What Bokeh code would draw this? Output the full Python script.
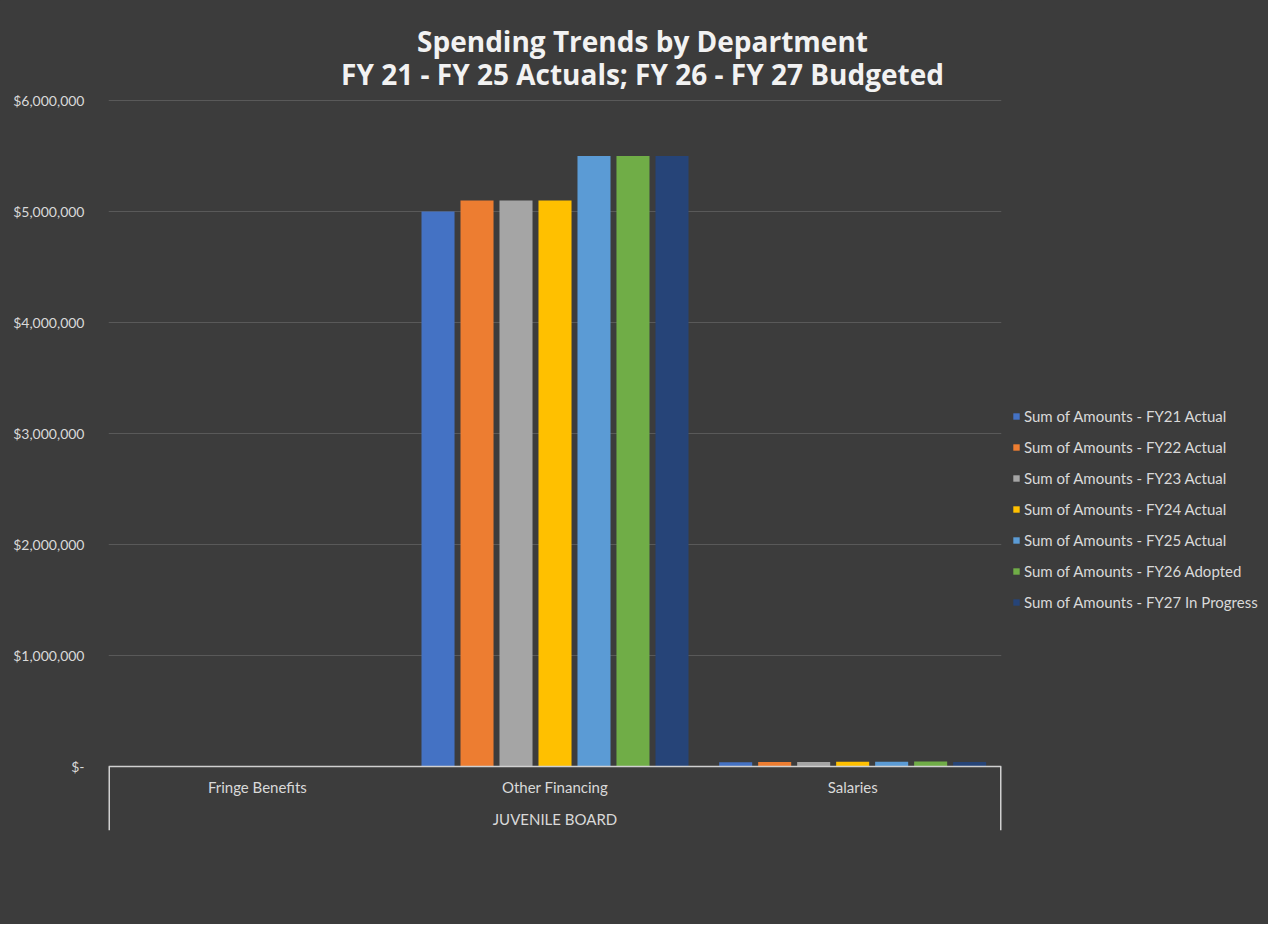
from bokeh.plotting import figure
from bokeh.models import (ColumnDataSource, FactorRange, Range1d, Legend, LegendItem,
                          FixedTicker, Label, InlineStyleSheet)
from bokeh.transform import dodge
from bokeh.embed import file_html
from bokeh.resources import INLINE

# ---- data ----
group = "JUVENILE BOARD"
categories = ["Fringe Benefits", "Other Financing", "Salaries"]
series = ["Sum of Amounts - FY21 Actual", "Sum of Amounts - FY22 Actual",
          "Sum of Amounts - FY23 Actual", "Sum of Amounts - FY24 Actual",
          "Sum of Amounts - FY25 Actual", "Sum of Amounts - FY26 Adopted",
          "Sum of Amounts - FY27 In Progress"]
fy21 = [1500, 5000000, 38000]
fy22 = [1800, 5100000, 40000]
fy23 = [2000, 5100000, 40000]
fy24 = [3000, 5100000, 42000]
fy25 = [2200, 5500000, 42000]
fy26 = [2400, 5500000, 44000]
fy27 = [2400, 5500000, 40000]
y_ticks = [0, 1000000, 2000000, 3000000, 4000000, 5000000, 6000000]
y_tick_labels = ["$-", "$1,000,000", "$2,000,000", "$3,000,000", "$4,000,000",
                 "$5,000,000", "$6,000,000"]
title_1 = "Spending Trends by Department"
title_2 = "FY 21 - FY 25 Actuals; FY 26 - FY 27 Budgeted"
colors = ["#4472C4", "#ED7D31", "#A5A5A5", "#FFC000", "#5B9BD5", "#70AD47", "#264478"]

factors = [(group, c) for c in categories]
data = dict(x=factors, fy21=fy21, fy22=fy22, fy23=fy23, fy24=fy24,
            fy25=fy25, fy26=fy26, fy27=fy27)
src = ColumnDataSource(data)
keys = ["fy21", "fy22", "fy23", "fy24", "fy25", "fy26", "fy27"]

BG = "#3c3c3c"
TXT = "#d9d9d9"
FONT = "Lato"

# geometry (pixels)
W, H = 1266, 924
LEFT, PLOT_W = 108, 893
TOP_PAD, PLOT_H, BELOW = 100, 666, 64       # space above $6M, $0..$6M, axis box below $0
FRAME_H = TOP_PAD + PLOT_H + BELOW
per_px = 6000000 / PLOT_H
y_end = 6000000 + TOP_PAD * per_px
y_start = -BELOW * per_px

p = figure(x_range=FactorRange(*factors, range_padding=0, group_padding=0),
           y_range=Range1d(y_start, y_end),
           width=W, height=H, output_backend="svg", toolbar_location=None,
           min_border_left=LEFT, min_border_right=W - LEFT - PLOT_W, min_border_top=0,
           min_border_bottom=H - FRAME_H)
p.frame_width = PLOT_W
p.frame_height = FRAME_H
p.background_fill_color = BG
p.border_fill_color = BG
p.outline_line_color = None
p.stylesheets = [InlineStyleSheet(css=":host { background-color: #3c3c3c; }")]

pitch = 0.131
bw = 0.111
items = []
for i, (k, s, c) in enumerate(zip(keys, series, colors)):
    r = p.vbar(x=dodge("x", (i - 3) * pitch, range=p.x_range), top=k, width=bw,
               bottom=0, source=src, fill_color=c, line_color=None)
    items.append(LegendItem(label=s, renderers=[r]))

# y axis
p.yaxis.ticker = FixedTicker(ticks=y_ticks)
p.yaxis.major_label_overrides = {t: l for t, l in zip(y_ticks, y_tick_labels)}
p.yaxis.axis_line_color = None
p.yaxis.major_tick_line_color = None
p.yaxis.minor_tick_line_color = None
p.yaxis.major_tick_out = 0
p.yaxis.major_tick_in = 0
p.yaxis.major_label_standoff = 24
p.yaxis.major_label_text_color = TXT
p.yaxis.major_label_text_font = FONT
p.yaxis.major_label_text_font_size = "14px"

p.ygrid.grid_line_color = "#595959"
p.ygrid.grid_line_width = 1
p.xgrid.grid_line_color = None

# x axis (drawn at $0 inside the frame)
p.xaxis.fixed_location = 0
p.xaxis.axis_line_color = "#d0d0d0"
p.xaxis.axis_line_width = 1.5
p.xaxis.major_tick_line_color = None
p.xaxis.major_tick_out = 0
p.xaxis.major_tick_in = 0
p.xaxis.major_label_standoff = 11
p.xaxis.major_label_text_color = TXT
p.xaxis.major_label_text_font = FONT
p.xaxis.major_label_text_font_size = "15px"
p.xaxis.group_text_color = TXT
p.xaxis.group_text_font = FONT
p.xaxis.group_text_font_style = "normal"
p.xaxis.group_text_font_size = "15px"
p.xaxis.separator_line_color = None

# vertical edges of the category box below the axis
n = len(categories)
p.segment(x0=[0, n], y0=[0, 0], x1=[0, n], y1=[y_start, y_start],
          line_color="#d0d0d0", line_width=3)

# title
for txt, yy in ((title_1, FRAME_H - 40), (title_2, FRAME_H - 73)):
    p.add_layout(Label(x=534, y=yy, x_units="screen", y_units="screen",
                       text=txt, text_align="center", text_baseline="middle",
                       text_color="#f2f2f2", text_font="Open Sans",
                       text_font_style="bold", text_font_size="28px"))

legend = Legend(items=items, location=(11, FRAME_H - 612), padding=0, margin=0,
                border_line_color=None, background_fill_alpha=0,
                glyph_width=8, glyph_height=8, label_standoff=4, spacing=11,
                label_height=20, label_text_color=TXT, label_text_font=FONT,
                label_text_font_size="15px")
p.add_layout(legend, "right")

open("out.html", "w").write(file_html(p, INLINE))
